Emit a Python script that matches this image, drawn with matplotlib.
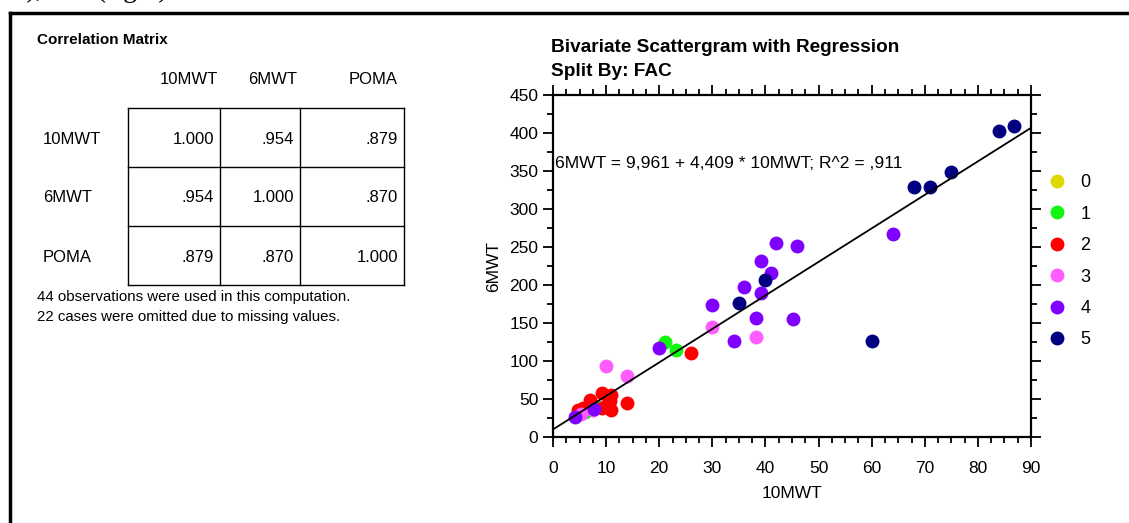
import numpy as np
import matplotlib.pyplot as plt
from matplotlib.ticker import MultipleLocator

plt.rcParams['font.family'] = ['Liberation Sans', 'DejaVu Sans']

# correlation table
var_names = ['10MWT', '6MWT', 'POMA']
corr_text = [['1.000', '.954', '.879'],
             ['.954', '1.000', '.870'],
             ['.879', '.870', '1.000']]
note_lines = ['44 observations were used in this computation.',
              '22 cases were omitted due to missing values.']

# scatter data, split by FAC
fac_levels = ['0', '1', '2', '3', '4', '5']
fac_colors = ['#dcd800', '#11f511', '#ff0000', '#ff5cff', '#8000ff', '#000080']
x_fac0 = []
y_fac0 = []
x_fac1 = [6.0, 8.2, 21.0, 23.1]
y_fac1 = [33, 40, 124.5, 114.5]
x_fac2 = [4.8, 5.6, 7.0, 9.2, 11.0, 11.0, 9.2, 10.1, 10.8, 13.9, 26.0]
y_fac2 = [35.5, 38, 48.7, 57.6, 55, 35.5, 38, 42, 48, 45, 110]
x_fac3 = [5.2, 7.6, 10.0, 14.0, 30.0, 38.2]
y_fac3 = [30, 36, 94, 80, 145, 132]
x_fac4 = [4.1, 7.8, 20.0, 30.0, 34.1, 36.0, 41.0, 39.1, 39.1, 38.2, 41.9, 45.9, 45.1, 64.1]
y_fac4 = [26.7, 37, 117.5, 173.7, 126.7, 197, 216, 231.6, 190, 157, 255.7, 251, 155, 267]
x_fac5 = [35.1, 40.0, 60.0, 68.0, 71.0, 74.9, 84.0, 86.8]
y_fac5 = [176, 206.6, 126.7, 328.5, 328.5, 349, 403, 409.6]
xs = [x_fac0, x_fac1, x_fac2, x_fac3, x_fac4, x_fac5]
ys = [y_fac0, y_fac1, y_fac2, y_fac3, y_fac4, y_fac5]

b0, b1 = 9.961, 4.409

W, H = 1129, 523
fig = plt.figure(figsize=(W / 100, H / 100), dpi=100)

# background axes in pixel coordinates for the table and frame
bg = fig.add_axes([0, 0, 1, 1])
bg.set_xlim(0, W)
bg.set_ylim(H, 0)
bg.axis('off')

# page fragments: frame lines and clipped caption above
bg.plot([10, 10], [13, H], color='black', lw=2.5)
bg.plot([10, W], [13, 13], color='black', lw=2.5)
bg.text(14, -3, 'e), and (right)', family='Liberation Serif', fontsize=20,
        va='baseline', ha='left')

bg.text(37, 40, 'Correlation Matrix', fontsize=11, fontweight='bold',
        va='center')
col_right = [214, 294, 398]
hdr_x = [189, 273, 398]
hdr_ha = ['center', 'center', 'right']
for i, nm in enumerate(var_names):
    bg.text(hdr_x[i], 80, nm, fontsize=12, ha=hdr_ha[i], va='center')
row_y = [139, 198, 257]
for r, nm in enumerate(var_names):
    bg.text(43, row_y[r], nm, fontsize=12, va='center')
    for c in range(3):
        bg.text(col_right[c], row_y[r], corr_text[r][c], fontsize=12,
                ha='right', va='center')
for yy in [108, 167, 226, 285]:
    bg.plot([128, 404], [yy, yy], color='black', lw=1)
for xx in [128, 220, 300, 404]:
    bg.plot([xx, xx], [108, 285], color='black', lw=1)
for k, line in enumerate(note_lines):
    bg.text(37, 297 + 20 * k, line, fontsize=10.8, va='center')

# scatter plot
ax = fig.add_axes([553 / W, 1 - 437 / H, (1031 - 553) / W, (437 - 95) / H])
for lvl, col, xv, yv in zip(fac_levels, fac_colors, xs, ys):
    ax.plot(xv, yv, 'o', color=col, markersize=10, markeredgewidth=0,
            label=lvl, zorder=3)
xl = np.array([0, 90])
ax.plot(xl, b0 + b1 * xl, color='black', lw=1.3, zorder=4)
ax.text(0.3, 360, '6MWT = 9,961 + 4,409 * 10MWT; R^2 = ,911', fontsize=12.6,
        va='center', ha='left')

ax.set_xlim(0, 90)
ax.set_ylim(0, 450)
ax.xaxis.set_major_locator(MultipleLocator(10))
ax.xaxis.set_minor_locator(MultipleLocator(2.5))
ax.yaxis.set_major_locator(MultipleLocator(50))
ax.yaxis.set_minor_locator(MultipleLocator(25))
ax.tick_params(which='both', direction='out', top=True, right=True,
               labelsize=12.5, width=1.3)
ax.tick_params(which='major', length=7)
ax.tick_params(which='minor', length=4)
ax.tick_params(axis='x', which='major', pad=10.5)
for sp in ax.spines.values():
    sp.set_linewidth(1.6)
ax.set_xlabel('10MWT', fontsize=12.5, labelpad=7)
ax.set_ylabel('6MWT', fontsize=12.5, labelpad=6)

fig.text(551 / W, 1 - 47 / H, 'Bivariate Scattergram with Regression',
         fontsize=13.7, fontweight='bold', va='center')
fig.text(551 / W, 1 - 72 / H, 'Split By: FAC', fontsize=13.7,
         fontweight='bold', va='center')

ax.legend(loc='upper left', bbox_to_anchor=(1039 / W, 1 - 167 / H),
          bbox_transform=fig.transFigure, frameon=False, fontsize=13,
          labelspacing=0.8, handletextpad=0.7, handlelength=1.2,
          borderaxespad=0)

fig.savefig('out.png', dpi=100)
